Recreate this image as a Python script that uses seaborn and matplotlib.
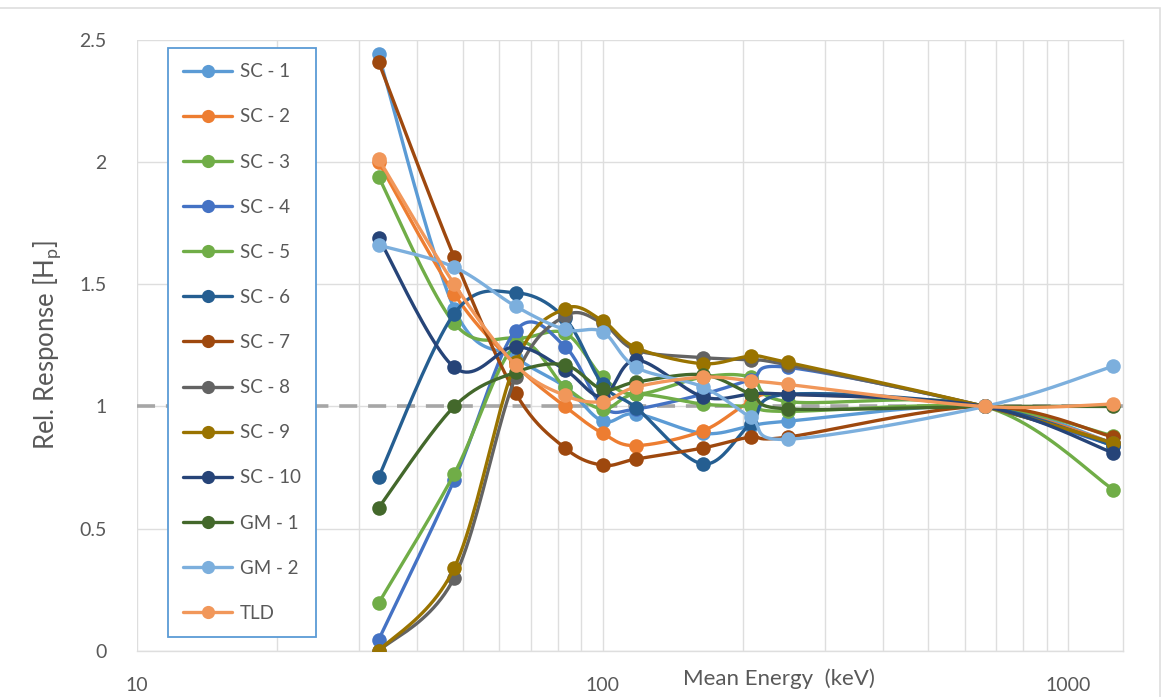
import numpy as np
import pandas as pd
import matplotlib
matplotlib.use("Agg")
import matplotlib.pyplot as plt
from matplotlib.lines import Line2D
from matplotlib.patches import Rectangle
import seaborn as sns

# mean energies of the beam qualities (keV)
energy = [33, 48, 65, 83, 100, 118, 164, 208, 250, 662, 1250]

# relative response for each dosimeter
sc1 = [2.44, 1.40, 1.20, 1.08, 0.94, 0.97, 0.89, 0.92, 0.94, 1.00, 0.85]
sc2 = [2.00, 1.46, 1.17, 1.00, 0.89, 0.84, 0.90, 1.02, 1.05, 1.00, 0.85]
sc3 = [1.94, 1.34, 1.28, 1.30, 1.12, 1.05, 1.12, 1.12, 1.02, 1.00, 0.66]
sc4 = [0.045, 0.70, 1.31, 1.245, 1.00, 0.99, 1.05, 1.11, 1.16, 1.00, 0.84]
sc5 = [0.195, 0.725, 1.25, 1.08, 0.99, 1.05, 1.01, 1.00, 0.98, 1.00, 0.88]
sc6 = [0.71, 1.38, 1.465, 1.36, 1.09, 0.995, 0.765, 0.93, 1.05, 1.00, 0.84]
sc7 = [2.41, 1.61, 1.055, 0.83, 0.76, 0.785, 0.83, 0.875, 0.875, 1.00, 0.875]
sc8 = [0.0, 0.30, 1.12, 1.37, 1.34, 1.23, 1.20, 1.19, 1.17, 1.00, 0.85]
sc9 = [0.0, 0.34, 1.18, 1.40, 1.35, 1.24, 1.175, 1.205, 1.18, 1.00, 0.85]
sc10 = [1.69, 1.16, 1.245, 1.15, 1.04, 1.19, 1.04, 1.05, 1.05, 1.00, 0.81]
gm1 = [0.585, 1.00, 1.14, 1.17, 1.07, 1.10, 1.13, 1.05, 0.99, 1.00, 1.00]
gm2 = [1.66, 1.57, 1.41, 1.315, 1.305, 1.16, 1.08, 0.955, 0.866, 1.00, 1.165]
tld = [2.013, 1.50, 1.17, 1.045, 1.02, 1.08, 1.12, 1.105, 1.09, 1.00, 1.01]

names = ["SC - 1", "SC - 2", "SC - 3", "SC - 4", "SC - 5", "SC - 6", "SC - 7",
         "SC - 8", "SC - 9", "SC - 10", "GM - 1", "GM - 2", "TLD"]
values = [sc1, sc2, sc3, sc4, sc5, sc6, sc7, sc8, sc9, sc10, gm1, gm2, tld]
colors = ["#5B9BD5", "#ED7D31", "#70AD47", "#4472C4", "#70AD47", "#255E91",
          "#9E480E", "#636363", "#997300", "#264478", "#43682B", "#7CAFDD",
          "#F1975A"]


def smooth(xs, ys, n=24):
    # Catmull-Rom curve through the points (log x), like Excel's smoothed line
    p = np.column_stack([np.log10(xs), ys])
    p = np.vstack([p[0], p, p[-1]])
    t = np.linspace(0, 1, n)[:, None]
    out = []
    for i in range(1, len(p) - 2):
        p0, p1, p2, p3 = p[i - 1], p[i], p[i + 1], p[i + 2]
        seg = 0.5 * (2 * p1 + (-p0 + p2) * t
                     + (2 * p0 - 5 * p1 + 4 * p2 - p3) * t ** 2
                     + (-p0 + 3 * p1 - 3 * p2 + p3) * t ** 3)
        out.append(seg if i == 1 else seg[1:])
    out = np.vstack(out)
    return 10 ** out[:, 0], out[:, 1]


sns.set_theme(style="white")
plt.rcParams["font.family"] = ["Lato", "DejaVu Sans"]

fig = plt.figure(figsize=(11.72, 6.97), dpi=100)
ax = fig.add_axes([0.117, 0.066, 0.841, 0.877])
ax.set_xscale("log")

grid_c = "#DEDEDE"
ax.axhline(1, color="#A6A6A6", lw=2.6, ls=(0, (5, 3)), zorder=1)

for k, (name, vals, c) in enumerate(zip(names, values, colors)):
    cx, cy = smooth(energy, vals)
    sns.lineplot(x=cx, y=cy, sort=False, estimator=None, color=c, lw=2.4,
                 ax=ax, zorder=3 + k)
    pts = pd.DataFrame({"energy": energy, "resp": vals})
    sns.scatterplot(data=pts, x="energy", y="resp", color=c, s=110,
                    edgecolor=c, linewidth=0, ax=ax, zorder=3 + k)

ax.set_xlim(10, 1310)
ax.set_ylim(0, 2.5)
ax.set_yticks([0, 0.5, 1, 1.5, 2, 2.5])
ax.set_yticklabels(["0", "0.5", "1", "1.5", "2", "2.5"])
ax.set_xticks([10, 100, 1000])
ax.set_xticklabels(["10", "100", "1000"])
ax.grid(True, which="both", color=grid_c, lw=1.0)
ax.set_axisbelow(True)
ax.tick_params(axis="both", which="both", length=0, labelsize=14,
               labelcolor="#595959")
ax.tick_params(axis="x", pad=19)
ax.tick_params(axis="y", pad=22)
for s in ["top", "left"]:
    ax.spines[s].set_visible(False)
for s in ["bottom", "right"]:
    ax.spines[s].set_color(grid_c)
    ax.spines[s].set_linewidth(1.0)

ax.set_ylabel(r"Rel. Response [H$_\mathregular{p}$]", fontsize=18.5,
              color="#595959", labelpad=12)
ax.set_xlabel("Mean Energy  (keV)", fontsize=16, color="#595959")
ax.xaxis.set_label_coords(0.651, -0.028)

handles = [Line2D([0], [0], color=c, lw=2.4, marker="o", ms=9.5,
                  markeredgewidth=0) for c in colors]
leg = ax.legend(handles, names, loc="upper left",
                bbox_to_anchor=(0.031, 0.986), frameon=True, fancybox=False,
                edgecolor="#5B9BD5", framealpha=1, labelspacing=1.5,
                handlelength=2.65, handletextpad=0.4, borderpad=0.8,
                borderaxespad=0, fontsize=13.5, labelcolor="#595959")
leg.get_frame().set_linewidth(1.3)
leg.set_zorder(30)

fig.patches.append(Rectangle((-0.01, -0.01), 1160 / 1172 + 0.01,
                             (697 - 8) / 697 + 0.01, transform=fig.transFigure,
                             fill=False, edgecolor=grid_c, lw=1.2))

fig.savefig("out.png", dpi=100)
